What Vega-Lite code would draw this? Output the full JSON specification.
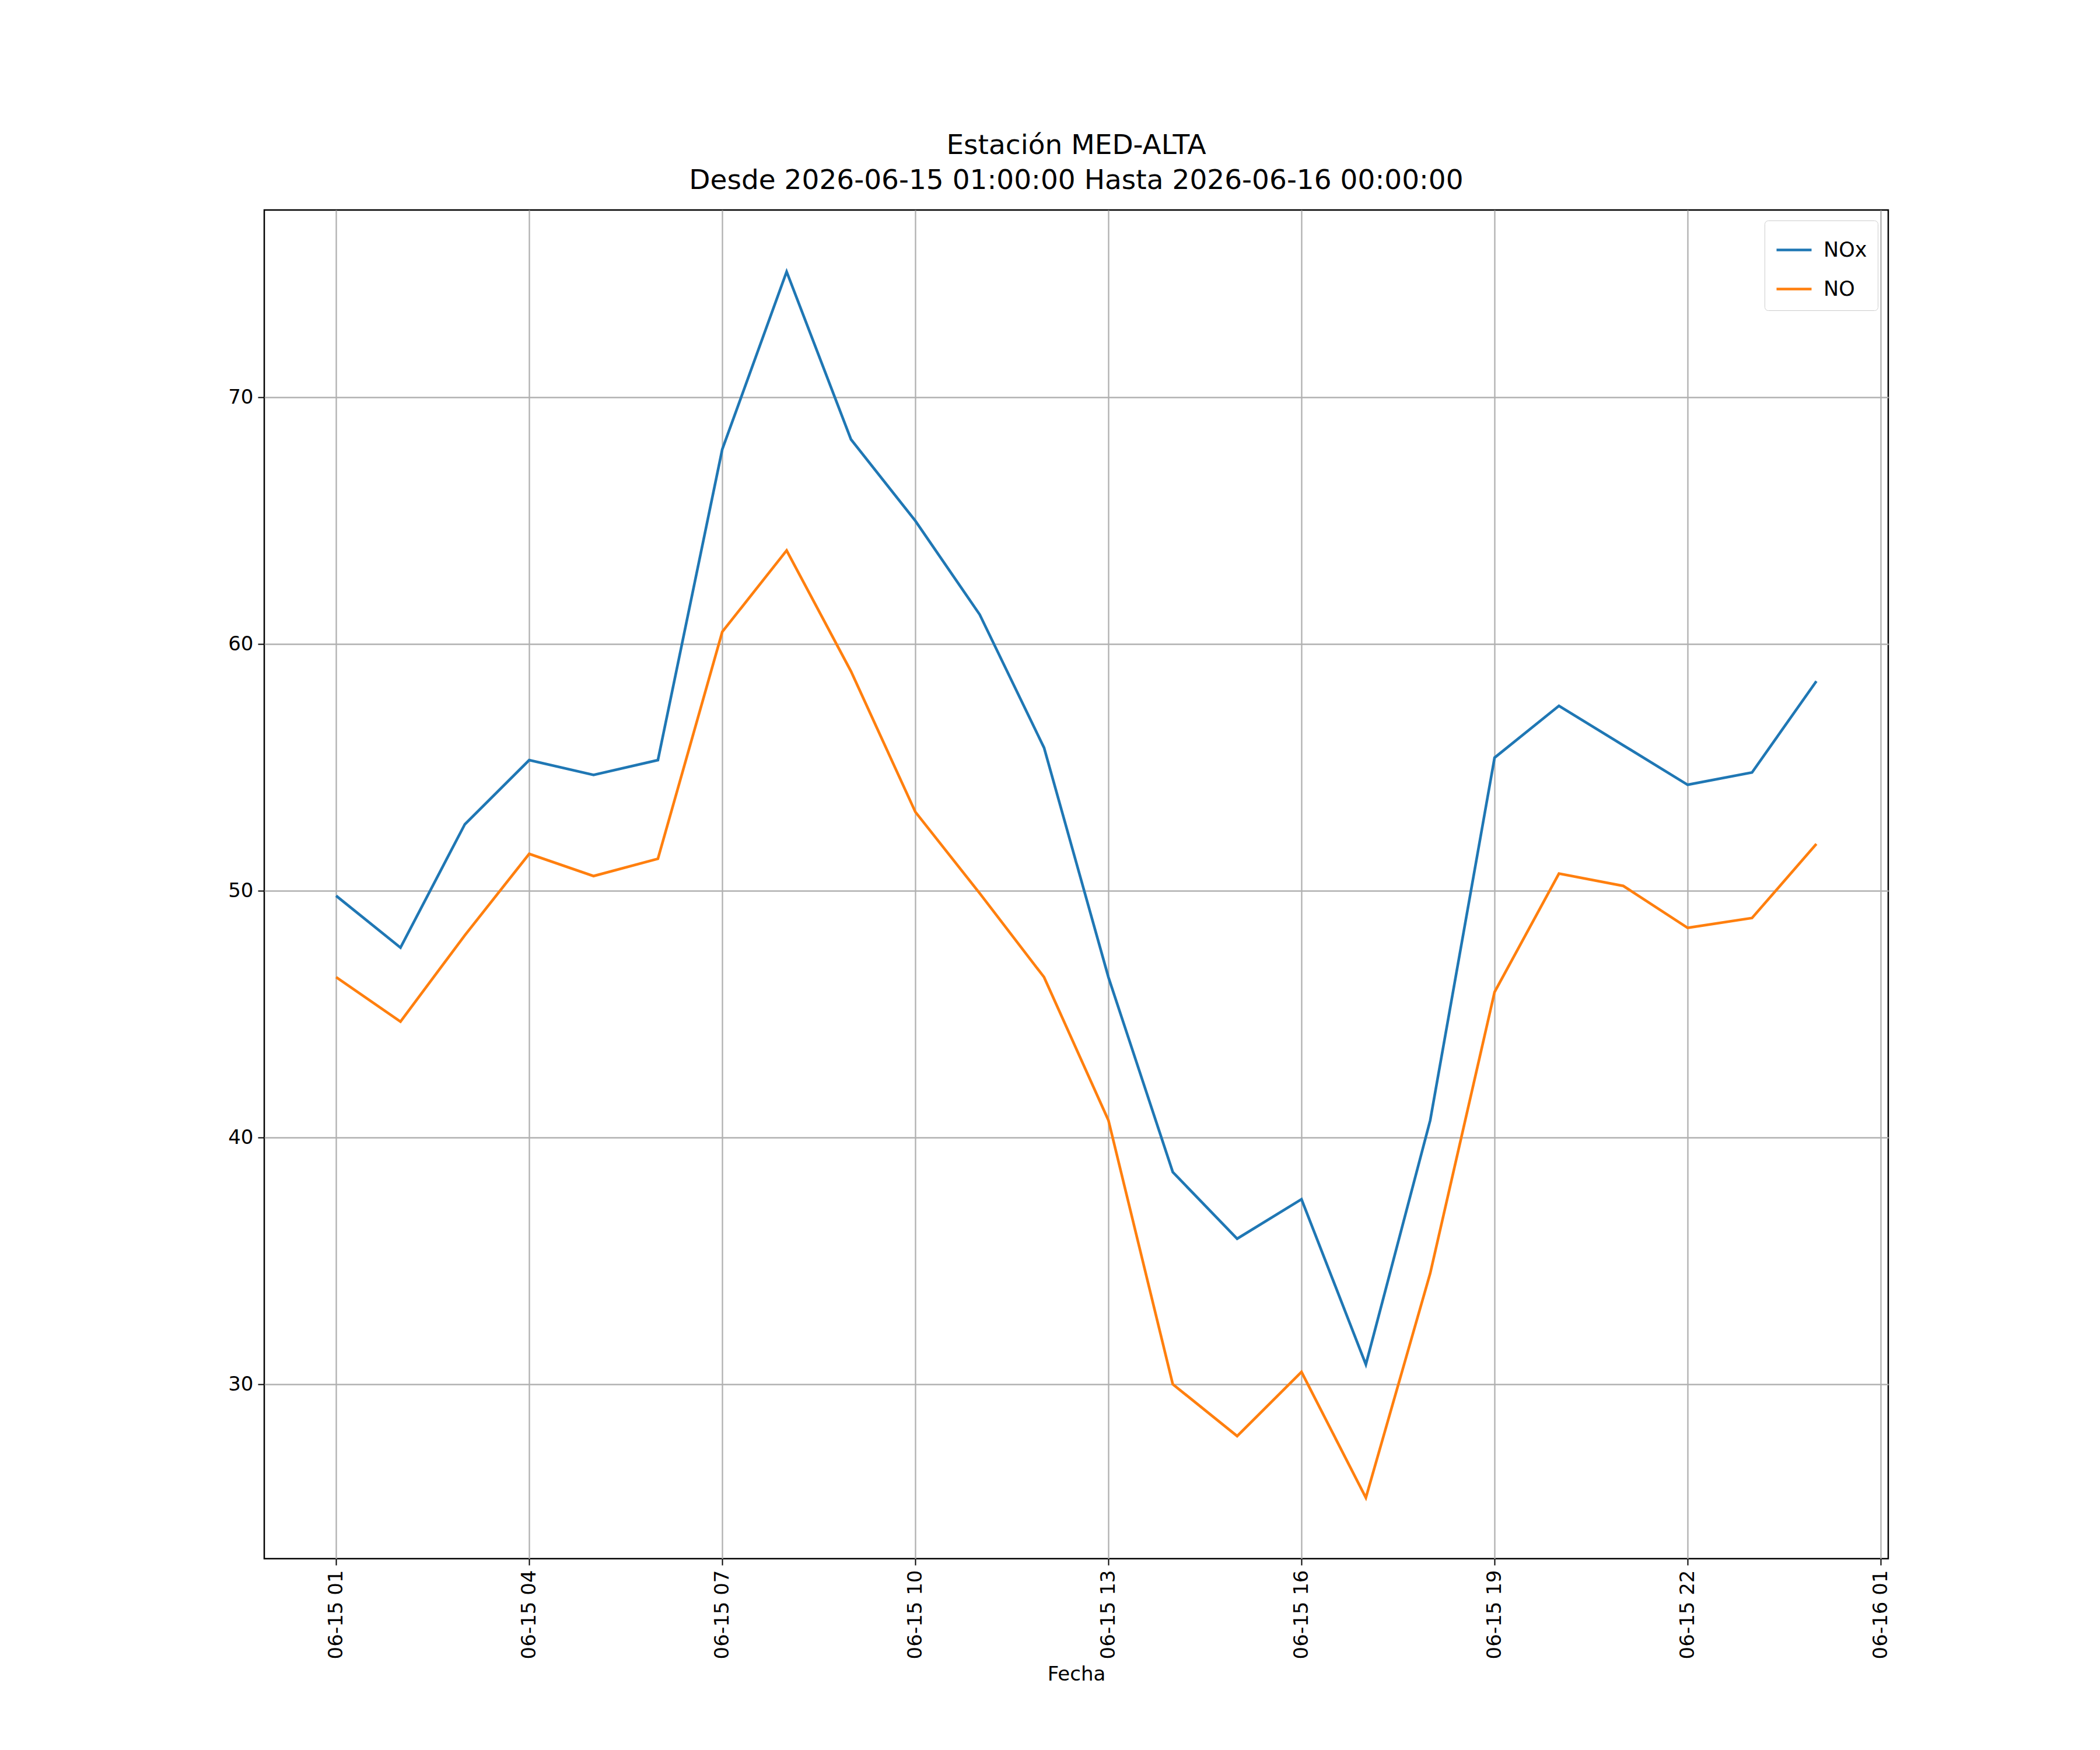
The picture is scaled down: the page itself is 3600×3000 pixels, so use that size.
{
  "$schema": "https://vega.github.io/schema/vega-lite/v6.json",
  "width": 2784,
  "height": 2312,
  "autosize": {"type": "none"},
  "padding": {"left": 453, "top": 360, "right": 363, "bottom": 328},
  "background": "white",
  "config": {
    "font": "DejaVu Sans",
    "view": {"stroke": "black", "strokeWidth": 2.5},
    "axis": {"labelFont": "DejaVu Sans", "titleFont": "DejaVu Sans", "labelFontSize": 34, "titleFontSize": 34, "labelColor": "black", "titleColor": "black", "tickColor": "black", "tickSize": 11, "tickWidth": 2, "domain": false, "grid": true, "gridColor": "#b0b0b0", "gridWidth": 2.3, "titleFontWeight": "normal"}
  },
  "title": {"text": ["Estación MED-ALTA", "Desde 2026-06-15 01:00:00 Hasta 2026-06-16 00:00:00"], "fontSize": 47, "font": "DejaVu Sans", "fontWeight": "normal", "offset": 26, "lineHeight": 60},
  "data": {"values": [
    {"t": "2026-06-15T01:00:00Z", "NOx": 49.8, "NO": 46.5},
    {"t": "2026-06-15T02:00:00Z", "NOx": 47.7, "NO": 44.7},
    {"t": "2026-06-15T03:00:00Z", "NOx": 52.7, "NO": 48.2},
    {"t": "2026-06-15T04:00:00Z", "NOx": 55.3, "NO": 51.5},
    {"t": "2026-06-15T05:00:00Z", "NOx": 54.7, "NO": 50.6},
    {"t": "2026-06-15T06:00:00Z", "NOx": 55.3, "NO": 51.3},
    {"t": "2026-06-15T07:00:00Z", "NOx": 67.9, "NO": 60.5},
    {"t": "2026-06-15T08:00:00Z", "NOx": 75.1, "NO": 63.8},
    {"t": "2026-06-15T09:00:00Z", "NOx": 68.3, "NO": 58.9},
    {"t": "2026-06-15T10:00:00Z", "NOx": 65.0, "NO": 53.2},
    {"t": "2026-06-15T11:00:00Z", "NOx": 61.2, "NO": 49.9},
    {"t": "2026-06-15T12:00:00Z", "NOx": 55.8, "NO": 46.5},
    {"t": "2026-06-15T13:00:00Z", "NOx": 46.5, "NO": 40.7},
    {"t": "2026-06-15T14:00:00Z", "NOx": 38.6, "NO": 30.0},
    {"t": "2026-06-15T15:00:00Z", "NOx": 35.9, "NO": 27.9},
    {"t": "2026-06-15T16:00:00Z", "NOx": 37.5, "NO": 30.5},
    {"t": "2026-06-15T17:00:00Z", "NOx": 30.8, "NO": 25.4},
    {"t": "2026-06-15T18:00:00Z", "NOx": 40.7, "NO": 34.5},
    {"t": "2026-06-15T19:00:00Z", "NOx": 55.4, "NO": 45.9},
    {"t": "2026-06-15T20:00:00Z", "NOx": 57.5, "NO": 50.7},
    {"t": "2026-06-15T21:00:00Z", "NOx": 55.9, "NO": 50.2},
    {"t": "2026-06-15T22:00:00Z", "NOx": 54.3, "NO": 48.5},
    {"t": "2026-06-15T23:00:00Z", "NOx": 54.8, "NO": 48.9},
    {"t": "2026-06-16T00:00:00Z", "NOx": 58.5, "NO": 51.9}
  ]},
  "transform": [{"fold": ["NOx", "NO"], "as": ["serie", "valor"]}],
  "mark": {"type": "line", "strokeWidth": 4.6, "clip": true},
  "encoding": {
    "x": {"field": "t", "type": "temporal", "title": "Fecha",
      "scale": {"type": "utc", "domain": ["2026-06-14T23:53:00Z", "2026-06-16T01:07:00Z"]},
      "axis": {"format": "%m-%d %H", "labelAngle": -90, "labelPadding": 8, "titlePadding": 10,
        "values": ["2026-06-15T01:00:00Z", "2026-06-15T04:00:00Z", "2026-06-15T07:00:00Z", "2026-06-15T10:00:00Z", "2026-06-15T13:00:00Z", "2026-06-15T16:00:00Z", "2026-06-15T19:00:00Z", "2026-06-15T22:00:00Z", "2026-06-16T01:00:00Z"]}},
    "y": {"field": "valor", "type": "quantitative", "title": null,
      "scale": {"domain": [22.93, 77.6], "nice": false, "zero": false},
      "axis": {"values": [30, 40, 50, 60, 70], "labelPadding": 8}},
    "color": {"field": "serie", "type": "nominal",
      "scale": {"domain": ["NOx", "NO"], "range": ["#1f77b4", "#ff7f0e"]},
      "legend": {"title": null, "orient": "top-right", "offset": 18, "labelFontSize": 35, "labelFont": "DejaVu Sans", "labelOffset": 18, "symbolType": "stroke", "symbolSize": 3600, "symbolStrokeWidth": 4.6, "fillColor": "white", "strokeColor": "#cccccc", "padding": 18, "cornerRadius": 6, "rowPadding": 16}}
  }
}
